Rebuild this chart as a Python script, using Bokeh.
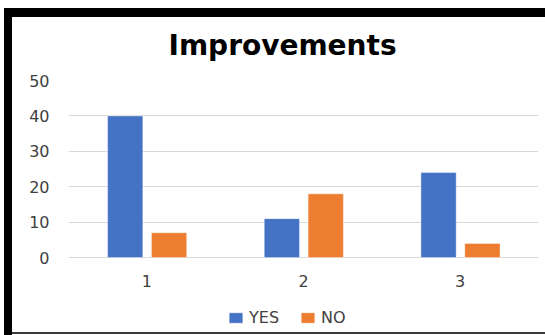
from bokeh.plotting import figure
from bokeh.models import (ColumnDataSource, FactorRange, Title, Legend, LegendItem,
                          FixedTicker)
from bokeh.core.properties import value
from bokeh.transform import dodge
from bokeh.embed import file_html
from bokeh.resources import INLINE

# Survey answers per question
categories = ["1", "2", "3"]
yes_counts = [40, 11, 24]
no_counts = [7, 18, 4]
y_ticks = [0, 10, 20, 30, 40, 50]

BLUE = "#4472C4"
ORANGE = "#ED7D31"
GRID = "#D9D9D9"
TEXT = "#404040"

Y_MIN = -22.0    # room under the baseline for category labels and legend
LABEL_Y = -6.5   # where the category names sit

source = ColumnDataSource(data=dict(cat=categories, yes=yes_counts, no=no_counts,
                                    label_y=[LABEL_Y] * len(categories)))

p = figure(
    x_range=FactorRange(factors=categories, range_padding=0),
    y_range=(Y_MIN, 50),
    frame_width=470, frame_height=255,
    min_border_left=68, min_border_right=7,
    min_border_top=80, min_border_bottom=0,
    x_axis_location=None,
    output_backend="svg", toolbar_location=None, title=None,
)
p.background_fill_alpha = 0
p.border_fill_alpha = 0
p.outline_line_color = None

# Black frame drawn as CSS background layers behind the transparent canvas
p.styles = {
    "background": (
        "linear-gradient(black, black) 4px 8px / 541px 9px no-repeat, "
        "linear-gradient(black, black) 4px 8px / 8px 327px no-repeat, "
        "linear-gradient(#3a3a3a, #3a3a3a) 12px 332px / 533px 2px no-repeat, "
        "white"
    )
}

r_yes = p.vbar(x=dodge("cat", -0.138, range=p.x_range), top="yes", width=0.225,
               source=source, fill_color=BLUE, line_color="white", line_alpha=0.4)
r_no = p.vbar(x=dodge("cat", 0.142, range=p.x_range), top="no", width=0.225,
              source=source, fill_color=ORANGE, line_color="white", line_alpha=0.4)

# Category names under the baseline
p.text(x="cat", y="label_y", text="cat", source=source,
       text_align="center", text_baseline="middle",
       text_font=value("DejaVu Sans"), text_font_size="16px", text_color=TEXT)

# Value axis
p.yaxis.ticker = FixedTicker(ticks=y_ticks)
p.yaxis.axis_line_color = None
p.yaxis.major_tick_line_color = None
p.yaxis.minor_tick_line_color = None
p.yaxis.major_label_standoff = 13
p.yaxis.major_label_text_font = "DejaVu Sans"
p.yaxis.major_label_text_font_size = "16px"
p.yaxis.major_label_text_color = TEXT

p.xgrid.grid_line_color = None
p.ygrid.grid_line_color = GRID
p.ygrid.grid_line_width = 1

# Title
p.add_layout(Title(text="Improvements", align="left", offset=100, standoff=38,
                   text_font="DejaVu Sans", text_font_style="bold",
                   text_font_size="28px", text_color="black"), "above")

# Legend under the category names
legend = Legend(items=[LegendItem(label="YES", renderers=[r_yes]),
                       LegendItem(label="NO", renderers=[r_no])],
                orientation="horizontal", location=(159, 8),
                margin=0, padding=0, spacing=20, label_standoff=5,
                glyph_width=17, glyph_height=13, label_height=18,
                label_text_font="DejaVu Sans", label_text_font_size="16px",
                label_text_color=TEXT, border_line_color=None,
                background_fill_alpha=0)
p.add_layout(legend, "center")

open("out.html", "w").write(file_html(p, INLINE))
